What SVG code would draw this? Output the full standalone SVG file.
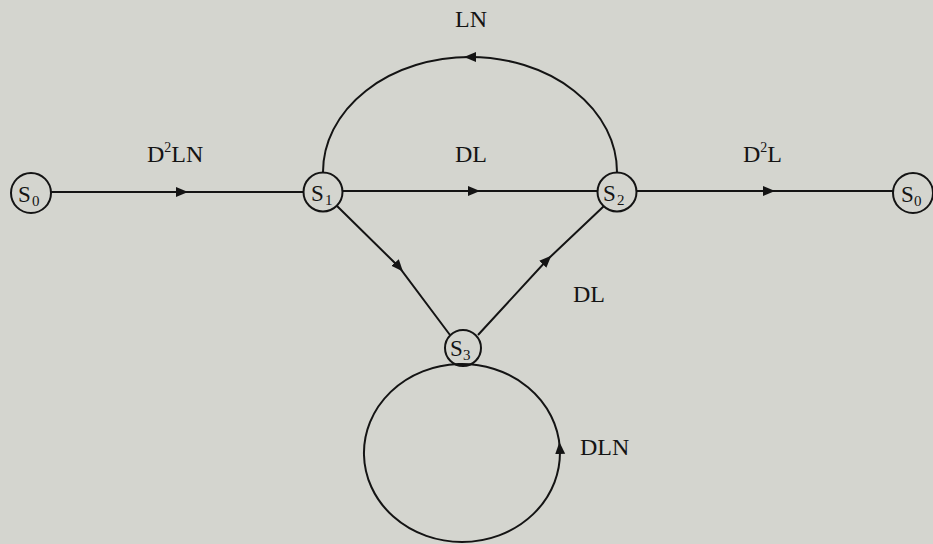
<svg xmlns="http://www.w3.org/2000/svg" width="933" height="544" viewBox="0 0 933 544">
  <style>
    .edge { fill: none; stroke: #141414; stroke-width: 2; }
    .node circle { fill: none; stroke: #141414; stroke-width: 2; }
    .node text, .lbl { font-family: "Liberation Serif", "Times New Roman", serif; fill: #141414; }
    .s { font-size: 23px; }
    .sub { font-size: 15px; }
    .lbl { font-size: 24px; }
    .sup { font-size: 14px; }
  </style>
  <defs>
    <marker id="arr" markerUnits="userSpaceOnUse" markerWidth="14" markerHeight="12" refX="6" refY="5" orient="auto">
      <path d="M0,0 L12,5 L0,10 z" fill="#141414"/>
    </marker>
  </defs>
  <rect width="933" height="544" fill="#d4d5cf"/>

  <g id="connectors">
    <!-- S0 -> S1 -->
    <path class="edge" d="M50,192 L182,192 L304,192" marker-mid="url(#arr)"/>
    <!-- S1 -> S2 -->
    <path class="edge" d="M343,191 L474,191 L598,191" marker-mid="url(#arr)"/>
    <!-- S2 -> S0 -->
    <path class="edge" d="M637,191 L769,191 L893,191" marker-mid="url(#arr)"/>
    <!-- S2 -> S1 over the top -->
    <path class="edge" d="M617,172 A147,115 0 0 0 470,57 A147,115 0 0 0 323,172" marker-mid="url(#arr)"/>
    <!-- S1 -> S3 -->
    <path class="edge" d="M337,206 L399,267 L450,335" marker-mid="url(#arr)"/>
    <!-- S3 -> S2 -->
    <path class="edge" d="M478,335 L547,260 L604,206" marker-mid="url(#arr)"/>
    <!-- S3 self-loop, one arrow on the right side -->
    <path class="edge" d="M462,542 A98,89 0 0 0 559.8,448 A98,89 0 1 0 462,542" marker-mid="url(#arr)"/>
  </g>

  <g id="labels">
    <text class="lbl" x="147" y="162">D<tspan class="sup" dy="-10">2</tspan><tspan dy="10">LN</tspan></text>
    <text class="lbl" x="455" y="162">DL</text>
    <text class="lbl" x="743" y="162">D<tspan class="sup" dy="-10">2</tspan><tspan dy="10">L</tspan></text>
    <text class="lbl" x="455" y="27">LN</text>
    <text class="lbl" x="573" y="302">DL</text>
    <text class="lbl" x="580" y="455">DLN</text>
  </g>

  <g id="S0-in" class="node">
    <circle cx="31" cy="193" r="20"/>
    <text class="s" x="18" y="202">S</text><text class="sub" x="32" y="206">0</text>
  </g>
  <g id="S1" class="node">
    <circle cx="323" cy="192" r="19.5"/>
    <text class="s" x="311" y="201">S</text><text class="sub" x="325" y="205">1</text>
  </g>
  <g id="S2" class="node">
    <circle cx="617" cy="192" r="19.5"/>
    <text class="s" x="603" y="201">S</text><text class="sub" x="617" y="205">2</text>
  </g>
  <g id="S0-out" class="node">
    <circle cx="913" cy="193" r="20"/>
    <text class="s" x="901" y="202">S</text><text class="sub" x="914" y="206">0</text>
  </g>
  <g id="S3" class="node">
    <circle cx="463" cy="348" r="18"/>
    <text class="s" x="450" y="356">S</text><text class="sub" x="463" y="360">3</text>
  </g>
</svg>
